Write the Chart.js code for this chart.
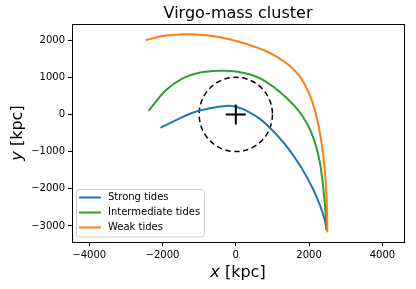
<!DOCTYPE html>
<html>
<head>
<meta charset="utf-8">
<script src="https://cdn.jsdelivr.net/npm/chart.js@4/dist/chart.umd.min.js"></script>
<style>
    body { margin: 0; background: #fff; }
    canvas { display: block; }
</style>
</head>
<body>
<canvas id="orbit-chart" width="416" height="289"></canvas>
<script>
// Data (kpc)
const strongX = [-2054, -1630, -1180, -730, -280, 0, 350, 710, 1070, 1430, 1790, 2100, 2300, 2424, 2478];
const strongY = [-360, -153, 45, 162, 230, 207, 72, -160, -500, -914, -1436, -1994, -2454, -2826, -3110];

const interX = [-2379, -1900, -1450, -1000, -370, 0, 440, 800, 1250, 1700, 1990, 2170, 2300, 2385, 2445, 2480];
const interY = [99, 656, 970, 1122, 1176, 1158, 1060, 895, 566, 117, -330, -790, -1320, -1960, -2570, -3130];

const weakX = [-2460, -2000, -1400, -800, -300, 0, 400, 800, 1150, 1450, 1750, 2000, 2200, 2340, 2430, 2480, 2500];
const weakY = [2003, 2109, 2161, 2130, 2051, 1976, 1861, 1715, 1537, 1327, 1016, 565, -51, -771, -1504, -2321, -3180];

const seriesLabels = ['Strong tides', 'Intermediate tides', 'Weak tides'];
const seriesColors = ['#1f77b4', '#2ca02c', '#ff7f0e'];

const xTicks = [-4000, -2000, 0, 2000, 4000];
const yTicks = [-3000, -2000, -1000, 0, 1000, 2000];
const circleRadius = 1000; // tidal radius drawn as dashed circle

const strTitle = 'Virgo-mass cluster';
const FONT = '"DejaVu Sans", sans-serif';

/** Zip two arrays into chart points */
function toPoints(arrX, arrY) {
    return arrX.map((x, i) => ({ x: x, y: arrY[i] }));
}

/** Matplotlib style minus sign */
function fmtTick(v) {
    return String(v).replace('-', '\u2212');
}

// Dashed circle, frame, title, axis labels and legend
const decorPlugin = {
    id: 'decor',
    beforeDatasetsDraw(chart) {
        const ctx = chart.ctx;
        const sx = chart.scales.x, sy = chart.scales.y;
        const cx = sx.getPixelForValue(0), cy = sy.getPixelForValue(0);
        const rx = sx.getPixelForValue(circleRadius) - cx;
        const ry = cy - sy.getPixelForValue(circleRadius);
        ctx.save();
        ctx.strokeStyle = '#000';
        ctx.lineWidth = 1.5;
        ctx.setLineDash([5.5, 3.5]);
        ctx.beginPath();
        ctx.ellipse(cx, cy, rx, ry, 0, 0, Math.PI * 2);
        ctx.stroke();
        ctx.restore();
    },
    afterDraw(chart) {
        const ctx = chart.ctx;
        const a = chart.chartArea;
        ctx.save();

        // Axes frame
        ctx.strokeStyle = '#000';
        ctx.lineWidth = 1;
        ctx.strokeRect(Math.round(a.left) + 0.5, Math.round(a.top) + 0.5,
            Math.round(a.right - a.left), Math.round(a.bottom - a.top));

        // Title, centred over the axes
        ctx.fillStyle = '#000';
        ctx.font = '16px ' + FONT;
        ctx.textAlign = 'center';
        ctx.textBaseline = 'middle';
        const midX = (a.left + a.right) / 2;
        ctx.fillText(strTitle, midX, 14);

        // axis labels: italic symbol + " [kpc]"
        const drawMathLabel = (sym, rest, x, y) => {
            ctx.font = 'italic 16px ' + FONT;
            const w1 = ctx.measureText(sym).width;
            ctx.font = '16px ' + FONT;
            const w2 = ctx.measureText(rest).width;
            let left = x - (w1 + w2) / 2;
            ctx.textAlign = 'left';
            ctx.font = 'italic 16px ' + FONT;
            ctx.fillText(sym, left, y);
            ctx.font = '16px ' + FONT;
            ctx.fillText(rest, left + w1, y);
        };
        drawMathLabel('x', ' [kpc]', midX, 273);

        ctx.save();
        ctx.translate(18, (a.top + a.bottom) / 2);
        ctx.rotate(-Math.PI / 2);
        drawMathLabel('y', ' [kpc]', 0, 0);
        ctx.restore();

        // Legend box in lower-left corner
        const lx = 76.5, ly = 189.5, lw = 128, lh = 47.5;
        ctx.beginPath();
        ctx.roundRect(lx, ly, lw, lh, 3);
        ctx.fillStyle = 'rgba(255,255,255,0.8)';
        ctx.fill();
        ctx.strokeStyle = '#cccccc';
        ctx.lineWidth = 1;
        ctx.stroke();

        ctx.font = '10px ' + FONT;
        ctx.textAlign = 'left';
        ctx.textBaseline = 'middle';
        seriesLabels.forEach((label, i) => {
            const y = 197.5 + i * 15;
            ctx.strokeStyle = seriesColors[i];
            ctx.lineWidth = 2;
            ctx.beginPath();
            ctx.moveTo(79, y);
            ctx.lineTo(101, y);
            ctx.stroke();
            ctx.fillStyle = '#000';
            ctx.fillText(label, 108, y);
        });
        ctx.restore();
    }
};

const seriesX = [strongX, interX, weakX];
const seriesY = [strongY, interY, weakY];

const datasets = seriesLabels.map((label, i) => ({
    label: label,
    data: toPoints(seriesX[i], seriesY[i]),
    showLine: true,
    borderColor: seriesColors[i],
    backgroundColor: seriesColors[i],
    borderWidth: 2,
    pointRadius: 0,
    tension: 0.4,
    order: 3 - i // later series drawn on top
}));

// Cluster centre marker
datasets.push({
    label: 'centre',
    data: [{ x: 0, y: 0 }],
    pointStyle: 'cross',
    pointRadius: 10,
    borderWidth: 2,
    borderColor: '#000',
    backgroundColor: '#000',
    order: 0
});

const domChart = document.getElementById('orbit-chart');
new Chart(domChart.getContext('2d'), {
    type: 'scatter',
    data: { datasets: datasets },
    plugins: [decorPlugin],
    options: {
        responsive: false,
        animation: false,
        devicePixelRatio: 1,
        layout: { padding: { top: 24, right: 9, bottom: 0, left: 0 } },
        plugins: {
            legend: { display: false },
            title: { display: false },
            tooltip: { enabled: false }
        },
        scales: {
            x: {
                type: 'linear',
                min: -4470,
                max: 4590,
                afterBuildTicks: (s) => { s.ticks = xTicks.map(v => ({ value: v })); },
                afterFit: (s) => { s.height = 47; },
                grid: { drawOnChartArea: false, tickLength: 4, tickColor: '#000', tickWidth: 1 },
                border: { display: false },
                ticks: { color: '#000', padding: 3, maxRotation: 0, font: { family: FONT, size: 10 }, callback: fmtTick }
            },
            y: {
                type: 'linear',
                min: -3433,
                max: 2434,
                afterBuildTicks: (s) => { s.ticks = yTicks.map(v => ({ value: v })); },
                afterFit: (s) => { s.width = 72; },
                grid: { drawOnChartArea: false, tickLength: 4, tickColor: '#000', tickWidth: 1 },
                border: { display: false },
                ticks: { color: '#000', padding: 3, font: { family: FONT, size: 10 }, callback: fmtTick }
            }
        }
    }
});
</script>
</body>
</html>
